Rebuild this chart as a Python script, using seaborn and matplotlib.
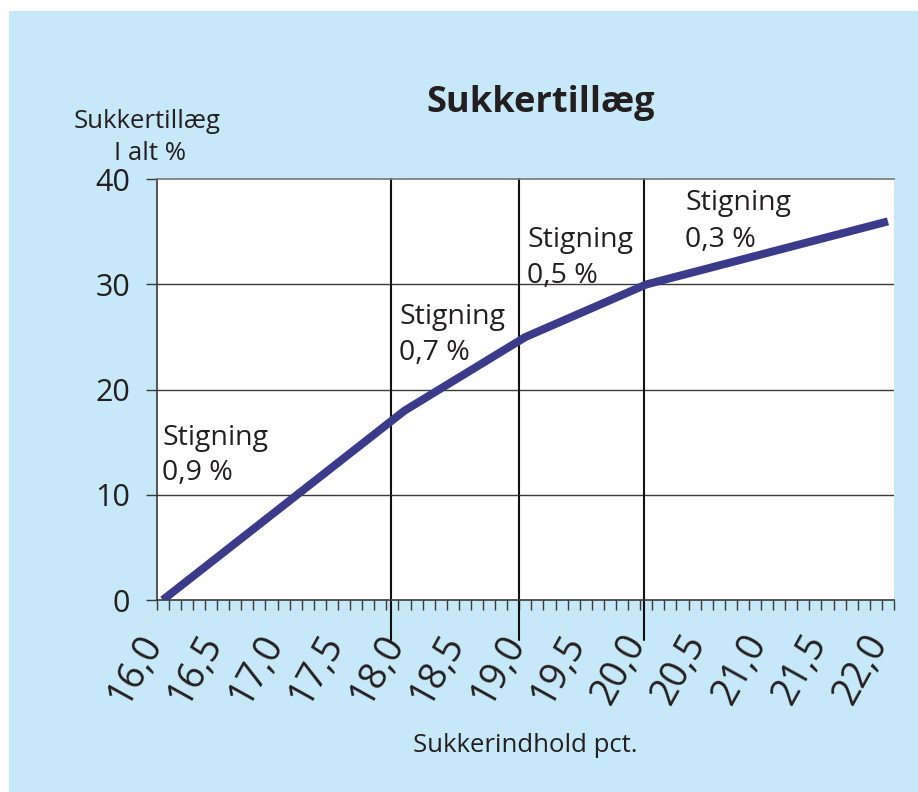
import matplotlib
matplotlib.use("Agg")
import matplotlib.pyplot as plt
import matplotlib.patches as mpatches
import matplotlib.transforms as mtransforms
from matplotlib.ticker import MultipleLocator, FixedLocator
import numpy as np
import pandas as pd
import seaborn as sns

# ---- data ----
sugar_pct = [16.0, 18.0, 19.0, 20.0, 22.0]
supplement_pct = [0, 18, 25, 30, 36]
x_tick_values = [16.0, 16.5, 17.0, 17.5, 18.0, 18.5, 19.0, 19.5, 20.0, 20.5, 21.0, 21.5, 22.0]
x_tick_labels = ["16,0", "16,5", "17,0", "17,5", "18,0", "18,5", "19,0", "19,5",
                 "20,0", "20,5", "21,0", "21,5", "22,0"]
y_tick_values = [0, 10, 20, 30, 40]
divider_x = [17.89, 18.95, 19.98]
slope_labels = ["0,9 %", "0,7 %", "0,5 %", "0,3 %"]

df = pd.DataFrame({"x": sugar_pct, "y": supplement_pct})

sns.set_theme(style="white")
plt.rcParams["font.family"] = ["Open Sans", "DejaVu Sans"]

TXT = "#231f20"
BG = "#c6e8f8"
LINE = "#3b3b8c"
GRID = "#3a3a3a"

fig = plt.figure(figsize=(9.18, 7.92), dpi=100, facecolor="white")
fig.patches.append(mpatches.Rectangle((9 / 918, 0), 1, 1 - 11 / 792,
                                      transform=fig.transFigure, facecolor=BG,
                                      edgecolor="none", zorder=-10))

ax = fig.add_axes([156.7 / 918, 1 - 600 / 792, (894 - 156.7) / 918, (600 - 179.3) / 792])
ax.set_facecolor("white")

sns.lineplot(data=df, x="x", y="y", ax=ax, color=LINE, linewidth=5.8,
             solid_capstyle="butt", zorder=5)

ax.set_xlim(15.95, 22.05)
ax.set_ylim(0, 40)

for yv in y_tick_values[1:4]:
    ax.axhline(yv, color=GRID, lw=1.0, zorder=1)
for xv in divider_x:
    ax.plot([xv, xv], [40, -3.8], color="#111111", lw=1.5, clip_on=False, zorder=2)

ax.spines["right"].set_visible(False)
ax.spines["top"].set_color("#777777")
ax.spines["top"].set_linewidth(1.2)
for s in ["left", "bottom"]:
    ax.spines[s].set_color(GRID)
    ax.spines[s].set_linewidth(1.2)

# x ticks: minor marks every 0.1 (category boundaries), labels drawn as rotated text
ax.xaxis.set_major_locator(FixedLocator(x_tick_values))
ax.xaxis.set_minor_locator(MultipleLocator(0.1, offset=0.05))
ax.set_xticklabels([""] * len(x_tick_values))
ax.tick_params(axis="x", which="minor", direction="out", length=7.2, width=1,
               color=GRID, bottom=True)
ax.tick_params(axis="x", which="major", length=0, bottom=True)
lab_tr = ax.get_xaxis_transform() + mtransforms.ScaledTranslation(
    -26 / 100, -28 / 100, fig.dpi_scale_trans)
for xv, lab in zip(x_tick_values, x_tick_labels):
    ax.text(xv, 0, lab, transform=lab_tr, rotation=61, rotation_mode="anchor",
            ha="right", va="top", fontsize=27, color=TXT, clip_on=False)

ax.set_yticks(y_tick_values)
ax.set_yticklabels([str(v) for v in y_tick_values], fontsize=22, color=TXT)
ax.tick_params(axis="y", which="major", direction="out", length=8, width=1,
               color=GRID, left=True, pad=11)
ax.set_xlabel("")
ax.set_ylabel("")

ann_pos = [(15.994, 14.73, 11.41), (17.956, 26.24, 22.81),
           (19.015, 33.56, 30.13), (20.323, 37.07, 33.56)]
for (xx, y1, y2), lab in zip(ann_pos, slope_labels):
    ax.text(xx, y1, "Stigning", fontsize=20.5, color=TXT, ha="left", va="baseline", zorder=6)
    ax.text(xx, y2, lab, fontsize=20.5, color=TXT, ha="left", va="baseline", zorder=6)

fig.text(541 / 918, 1 - 112 / 792, "Sukkertillæg", fontsize=26, fontweight="bold",
         color=TXT, ha="center", va="baseline")
fig.text(147 / 918, 1 - 128 / 792, "Sukkertillæg", fontsize=18.5, color=TXT,
         ha="center", va="baseline")
fig.text(150 / 918, 1 - 160 / 792, "I alt %", fontsize=18.5, color=TXT,
         ha="center", va="baseline")
fig.text(525 / 918, 1 - 752 / 792, "Sukkerindhold pct.", fontsize=18.5, color=TXT,
         ha="center", va="baseline")

fig.savefig("out.png", dpi=100, facecolor=fig.get_facecolor())
